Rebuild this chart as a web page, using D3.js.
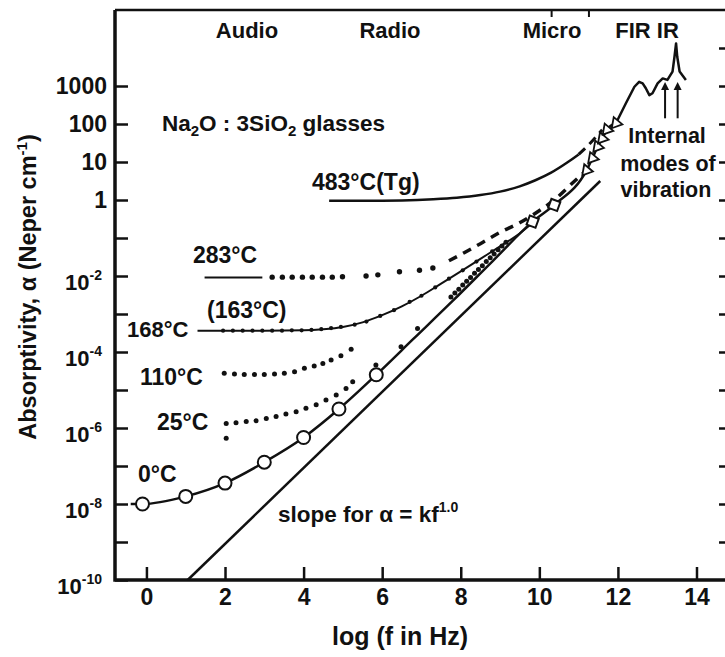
<!DOCTYPE html>
<html>
<head>
<meta charset="utf-8">
<script src="https://cdn.jsdelivr.net/npm/d3@7"></script>
<style>
  body { margin: 0; background: #fff; }
  svg text { font-family: "Liberation Sans", Arial, sans-serif; font-weight: bold; fill: #111; }
</style>
</head>
<body>
<div id="chart"></div>
<script>
// all absorptivity values are stored as log10(alpha in Neper/cm)
const xTicks = [0, 2, 4, 6, 8, 10, 12, 14];
const leftDecades = [-10, -9, -8, -7, -6, -5, -4, -3, -2, -1, 0, 1, 2, 3];
const rightDecades = [-9, -8, -7, -6, -5, -4, -3, -2, -1, 0, 1, 2, 3, 4];
const labelDecades = [-10, -8, -6, -4, -2, 0, 1, 2, 3];
const topTicks = [10.3, 11.25];

// 0 C open circles and the line through them
const circleX = [-0.1, 1, 2, 3, 4, 4.9, 5.85];
const circleY = [-8.0, -7.8, -7.45, -6.9, -6.25, -5.5, -4.6];
const zeroLineX = [-0.4, -0.1, 1, 2, 3, 4, 4.9, 5.85, 6.8, 7.8, 8.8, 9.83, 10.38];
const zeroLineY = [-8.0, -8.0, -7.8, -7.45, -6.9, -6.25, -5.5, -4.6, -3.65, -2.65, -1.62, -0.57, -0.13];
const squareX = [9.83, 10.38];
const squareY = [-0.57, -0.13];
const triX = [11.2, 11.35, 11.48, 11.6, 11.72, 11.95];
const triY = [0.78, 1.1, 1.4, 1.62, 1.85, 2.02];
// far IR / IR spectrum
const irX = [11.95, 12.2, 12.42, 12.54, 12.63, 12.71, 12.8, 12.88, 13.01, 13.14, 13.26, 13.39, 13.44, 13.48, 13.51, 13.57, 13.73];
const irY = [2.02, 2.54, 2.98, 3.11, 3.07, 2.94, 2.76, 2.81, 3.07, 3.2, 3.16, 3.38, 3.77, 4.12, 3.77, 3.38, 3.16];

// 483 C (Tg)
const tgX = [4.65, 5.5, 6.5, 7.3, 7.9, 8.5, 9.0, 9.5, 9.9, 10.3, 10.7, 11.0];
const tgY = [-0.02, -0.02, -0.01, 0.02, 0.06, 0.13, 0.22, 0.36, 0.52, 0.72, 0.98, 1.2];
const tgDashX = [11.0, 11.3, 11.6];
const tgDashY = [1.2, 1.5, 1.85];

// 283 C
const t283LineX = [1.48, 2.95];
const t283LineY = [-2.04, -2.04];
const t283DotX = [3.2, 3.46, 3.71, 3.97, 4.22, 4.48, 4.73, 4.99, 5.59, 5.89, 6.44, 6.95, 7.29];
const t283DotY = [-2.03, -2.03, -2.03, -2.03, -2.03, -2.03, -2.03, -2.02, -2.0, -1.97, -1.89, -1.85, -1.79];
const t283DashX = [7.7, 8.1, 8.5, 9.0, 9.5, 9.9, 10.4, 10.9, 11.2];
const t283DashY = [-1.6, -1.38, -1.15, -0.85, -0.6, -0.35, 0.02, 0.5, 0.78];

// 168 C (163 C dots)
const t168X = [1.3, 2, 3, 4, 4.5, 5, 5.5, 6, 6.5, 7, 7.5, 8, 8.5, 9, 9.5, 9.83];
const t168Y = [-3.44, -3.44, -3.44, -3.43, -3.4, -3.34, -3.22, -3.03, -2.8, -2.52, -2.2, -1.88, -1.55, -1.22, -0.88, -0.6];
const t163X = [1.95, 2.2, 2.45, 2.7, 2.95, 3.2, 3.45, 3.7, 3.95, 4.2, 4.45, 4.7, 4.95, 5.3, 5.6, 5.95, 6.3, 6.7, 7.0, 7.35, 7.7, 8.05, 8.4, 8.8];
const t163Y = [-3.44, -3.44, -3.44, -3.44, -3.44, -3.44, -3.44, -3.43, -3.43, -3.42, -3.4, -3.37, -3.34, -3.28, -3.2, -3.05, -2.9, -2.68, -2.52, -2.3, -2.07, -1.85, -1.62, -1.35];

// 110 C
const t110X = [1.98, 2.24, 2.49, 2.75, 3.0, 3.26, 3.51, 3.77, 4.02, 4.27, 4.49, 4.7, 4.95, 5.21];
const t110Y = [-4.56, -4.58, -4.59, -4.59, -4.59, -4.58, -4.56, -4.52, -4.43, -4.37, -4.3, -4.21, -4.1, -3.93];

// 25 C
const t25X = [2.03, 2.03, 2.28, 2.54, 2.79, 3.05, 3.3, 3.55, 3.81, 4.06, 4.32, 4.57, 4.83, 5.08, 5.25, 5.84, 6.48, 6.9,
              7.75, 7.85, 7.95, 8.05, 8.15, 8.25, 8.35, 8.45, 8.55, 8.65, 8.75, 8.85, 8.95, 9.05, 9.15];
const t25Y = [-6.27, -5.88, -5.86, -5.83, -5.81, -5.75, -5.7, -5.63, -5.57, -5.48, -5.39, -5.26, -5.13, -4.96, -4.78, -4.34, -3.86, -3.38,
              -2.55, -2.45, -2.35, -2.24, -2.14, -2.04, -1.93, -1.83, -1.73, -1.62, -1.52, -1.42, -1.31, -1.21, -1.11];

// slope for alpha = k f^1.0
const slopeX = [1.05, 11.55];
const slopeY = [-10, 0.5];

// arrows pointing at the internal vibration modes
const arrowX = [13.2, 13.52];
const arrowY0 = 2.15;
const arrowY1 = 3.0;

const width = 725, height = 657;
const svg = d3.select("#chart").append("svg")
    .attr("width", width)
    .attr("height", height);

const x = d3.scaleLinear().domain([-0.8, 14.7]).range([115, 724]);
const y = d3.scaleLog().domain([1e-10, 1e5]).range([580, 10]);

const pts = (xs, ys) => xs.map((v, i) => [v, ys[i]]);
const line = d3.line().x(d => x(d[0])).y(d => y(Math.pow(10, d[1])));
const smooth = d3.line().x(d => x(d[0])).y(d => y(Math.pow(10, d[1]))).curve(d3.curveMonotoneX);

// axes
const xAxis = d3.axisBottom(x).tickValues(xTicks).tickSizeInner(-13).tickSizeOuter(0).tickPadding(9);
const gx = svg.append("g").attr("transform", "translate(0,580)").call(xAxis);
gx.select(".domain").remove();
gx.selectAll(".tick line").attr("stroke", "#111").attr("stroke-width", 2.5);
gx.selectAll(".tick text").style("font-size", "23px").attr("fill", "#111");

const gl = svg.append("g").attr("transform", "translate(115,0)")
    .call(d3.axisLeft(y).tickValues(leftDecades.map(d => Math.pow(10, d))).tickSizeInner(-13).tickSizeOuter(0).tickFormat(""));
gl.select(".domain").remove();
gl.selectAll(".tick line").attr("stroke", "#111").attr("stroke-width", 2.5);

const gr = svg.append("g").attr("transform", "translate(725,0)")
    .call(d3.axisRight(y).tickValues(rightDecades.map(d => Math.pow(10, d))).tickSizeInner(-6).tickSizeOuter(0).tickFormat(""));
gr.select(".domain").remove();
gr.selectAll(".tick line").attr("stroke", "#111").attr("stroke-width", 2.5);

const gt = svg.append("g").attr("transform", "translate(0,10)")
    .call(d3.axisTop(x).tickValues(topTicks).tickSizeInner(-7).tickSizeOuter(0).tickFormat(""));
gt.select(".domain").remove();
gt.selectAll(".tick line").attr("stroke", "#111").attr("stroke-width", 2);

// frame
svg.append("path")
    .attr("d", "M115,10 V580 H725")
    .attr("fill", "none").attr("stroke", "#111").attr("stroke-width", 3.5);
svg.append("path")
    .attr("d", "M115,10 H725")
    .attr("fill", "none").attr("stroke", "#111").attr("stroke-width", 2.5);

// y tick labels
const yl = svg.append("g");
labelDecades.forEach(d => {
    const py = y(Math.pow(10, d));
    if (d >= 0) {
        yl.append("text").attr("x", 107).attr("y", py + 8)
            .attr("text-anchor", "end").style("font-size", "23px")
            .text(String(Math.pow(10, d)));
    } else {
        const t = yl.append("text").attr("x", 102).attr("y", py + 14)
            .attr("text-anchor", "end").style("font-size", "22px");
        t.append("tspan").text("10");
        t.append("tspan").attr("dy", -10).style("font-size", "14px").text("-" + (-d));
    }
});

// axis titles
svg.append("text").attr("x", 400).attr("y", 645).attr("text-anchor", "middle")
    .style("font-size", "25px").text("log (f in Hz)");
const yt = svg.append("text").attr("transform", "translate(36,287) rotate(-90)")
    .attr("text-anchor", "middle").style("font-size", "23.5px");
yt.append("tspan").text("Absorptivity, \u03b1 (Neper cm");
yt.append("tspan").attr("dy", -9).style("font-size", "15px").text("-1");
yt.append("tspan").attr("dy", 9).text(")");

// band names on top
[["Audio", 247], ["Radio", 390], ["Micro", 552], ["FIR IR", 647]].forEach(b => {
    svg.append("text").attr("x", b[1]).attr("y", 38).attr("text-anchor", "middle")
        .style("font-size", "22px").text(b[0]);
});

// curves
const ink = "#111";
svg.append("path").datum(pts(slopeX, slopeY)).attr("d", line)
    .attr("fill", "none").attr("stroke", ink).attr("stroke-width", 2.5);

svg.append("path").datum(pts(tgX, tgY)).attr("d", smooth)
    .attr("fill", "none").attr("stroke", ink).attr("stroke-width", 2.5);
svg.append("path").datum(pts(tgDashX, tgDashY)).attr("d", smooth)
    .attr("fill", "none").attr("stroke", ink).attr("stroke-width", 3).attr("stroke-dasharray", "9,6");

svg.append("path").datum(pts(t283LineX, t283LineY)).attr("d", line)
    .attr("fill", "none").attr("stroke", ink).attr("stroke-width", 2);
svg.append("path").datum(pts(t283DashX, t283DashY)).attr("d", smooth)
    .attr("fill", "none").attr("stroke", ink).attr("stroke-width", 3.5).attr("stroke-dasharray", "9,7");

svg.append("path").datum(pts(t168X, t168Y)).attr("d", smooth)
    .attr("fill", "none").attr("stroke", ink).attr("stroke-width", 2);

svg.append("path").datum(pts(zeroLineX, zeroLineY).concat(pts(triX, triY))).attr("d", smooth)
    .attr("fill", "none").attr("stroke", ink).attr("stroke-width", 2.5);
svg.append("path").datum(pts(irX, irY)).attr("d", line)
    .attr("fill", "none").attr("stroke", ink).attr("stroke-width", 2.5).attr("stroke-linejoin", "round");

// dots
function dots(xs, ys, r) {
    svg.append("g").selectAll("circle").data(pts(xs, ys)).join("circle")
        .attr("cx", d => x(d[0])).attr("cy", d => y(Math.pow(10, d[1])))
        .attr("r", r).attr("fill", ink);
}
dots(t283DotX, t283DotY, 2.7);
dots(t163X, t163Y, 2.1);
dots(t110X, t110Y, 2.5);
dots(t25X, t25Y, 2.5);

// open markers
svg.append("g").selectAll("circle").data(pts(circleX, circleY)).join("circle")
    .attr("cx", d => x(d[0])).attr("cy", d => y(Math.pow(10, d[1])))
    .attr("r", 6.5).attr("fill", "#fff").attr("stroke", ink).attr("stroke-width", 2);
svg.append("g").selectAll("path").data(pts(squareX, squareY)).join("path")
    .attr("transform", d => `translate(${x(d[0])},${y(Math.pow(10, d[1]))}) rotate(20)`)
    .attr("d", d3.symbol(d3.symbolSquare, 90))
    .attr("fill", "#fff").attr("stroke", ink).attr("stroke-width", 2);
svg.append("g").selectAll("path").data(pts(triX, triY)).join("path")
    .attr("transform", d => `translate(${x(d[0])},${y(Math.pow(10, d[1]))}) rotate(-20)`)
    .attr("d", d3.symbol(d3.symbolTriangle, 55))
    .attr("fill", "#fff").attr("stroke", ink).attr("stroke-width", 1.8);

// arrows
svg.append("defs").append("marker").attr("id", "ah")
    .attr("viewBox", "0 0 10 10").attr("refX", 5).attr("refY", 5)
    .attr("markerWidth", 4).attr("markerHeight", 5).attr("orient", "auto")
    .append("path").attr("d", "M0,0 L10,5 L0,10 Z").attr("fill", ink);
arrowX.forEach(a => {
    svg.append("line")
        .attr("x1", x(a)).attr("x2", x(a))
        .attr("y1", y(Math.pow(10, arrowY0))).attr("y2", y(Math.pow(10, arrowY1)))
        .attr("stroke", ink).attr("stroke-width", 2).attr("marker-end", "url(#ah)");
});

// annotations
function label(txt, px, py, anchor, size) {
    return svg.append("text").attr("x", px).attr("y", py)
        .attr("text-anchor", anchor || "start").style("font-size", (size || 23) + "px").text(txt);
}
const na = svg.append("text").attr("x", 162).attr("y", 131).style("font-size", "22.5px");
na.append("tspan").text("Na");
na.append("tspan").attr("dy", 5).style("font-size", "15px").text("2");
na.append("tspan").attr("dy", -5).text("O : 3SiO");
na.append("tspan").attr("dy", 5).style("font-size", "15px").text("2");
na.append("tspan").attr("dy", -5).text(" glasses");

label("483\u00b0C(Tg)", 312, 190);
label("283\u00b0C", 193, 263);
label("(163\u00b0C)", 207, 318);
label("168\u00b0C", 127, 337, "start", 22);
label("110\u00b0C", 140, 385);
label("25\u00b0C", 157, 430);
label("0\u00b0C", 138, 482);

const sl = svg.append("text").attr("x", 278).attr("y", 522).style("font-size", "22.5px");
sl.append("tspan").text("slope for \u03b1 = kf");
sl.append("tspan").attr("dy", -10).style("font-size", "14px").text("1.0");

label("Internal", 667, 143, "middle", 21.5);
label("modes of", 668, 171, "middle", 21.5);
label("vibration", 666, 197, "middle", 21.5);
</script>
</body>
</html>
